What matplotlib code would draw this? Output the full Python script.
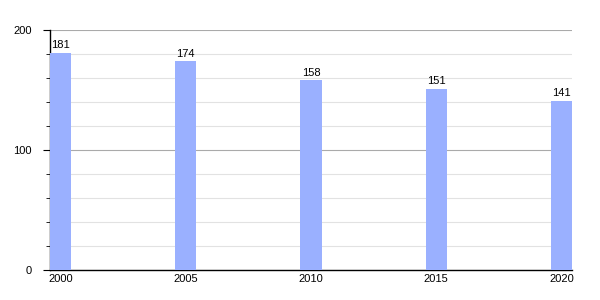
import matplotlib
matplotlib.use("Agg")
import matplotlib.pyplot as plt
from matplotlib.ticker import MultipleLocator

years = ["2000", "2005", "2010", "2015", "2020"]
values = [181, 174, 158, 151, 141]

plt.rcParams['font.family'] = ['Liberation Sans', 'DejaVu Sans']

fig = plt.figure(figsize=(6, 3), dpi=100)
ax = fig.add_axes([50/600, 30/300, 522/600, 240/300])

w = 0.168
x = range(len(years))
bars = ax.bar(x, values, width=w, color="#9ab0ff", zorder=3)
for b, v in zip(bars, values):
    ax.text(b.get_x() + b.get_width()/2, v + 2, str(v), ha="center", va="bottom",
            fontsize=8, zorder=4)

ax.set_xlim(-w/2, len(years) - 1 + w/2)
ax.set_ylim(0, 200)
ax.set_xticks(list(x))
ax.set_xticklabels(years)
ax.yaxis.set_major_locator(MultipleLocator(100))
ax.yaxis.set_minor_locator(MultipleLocator(20))
ax.grid(which="minor", axis="y", color="#e2e2e2", linewidth=0.8, zorder=0)
ax.grid(which="major", axis="y", color="#aaaaaa", linewidth=0.8, zorder=1)

for s in ["top", "right"]:
    ax.spines[s].set_visible(False)
ax.spines["left"].set_linewidth(1)
ax.spines["bottom"].set_linewidth(1)
ax.tick_params(axis="x", length=0, labelsize=8, pad=3)
ax.tick_params(axis="y", which="major", length=5, labelsize=8, pad=8)
ax.tick_params(axis="y", which="minor", length=3)

fig.savefig("out.png", dpi=100)
